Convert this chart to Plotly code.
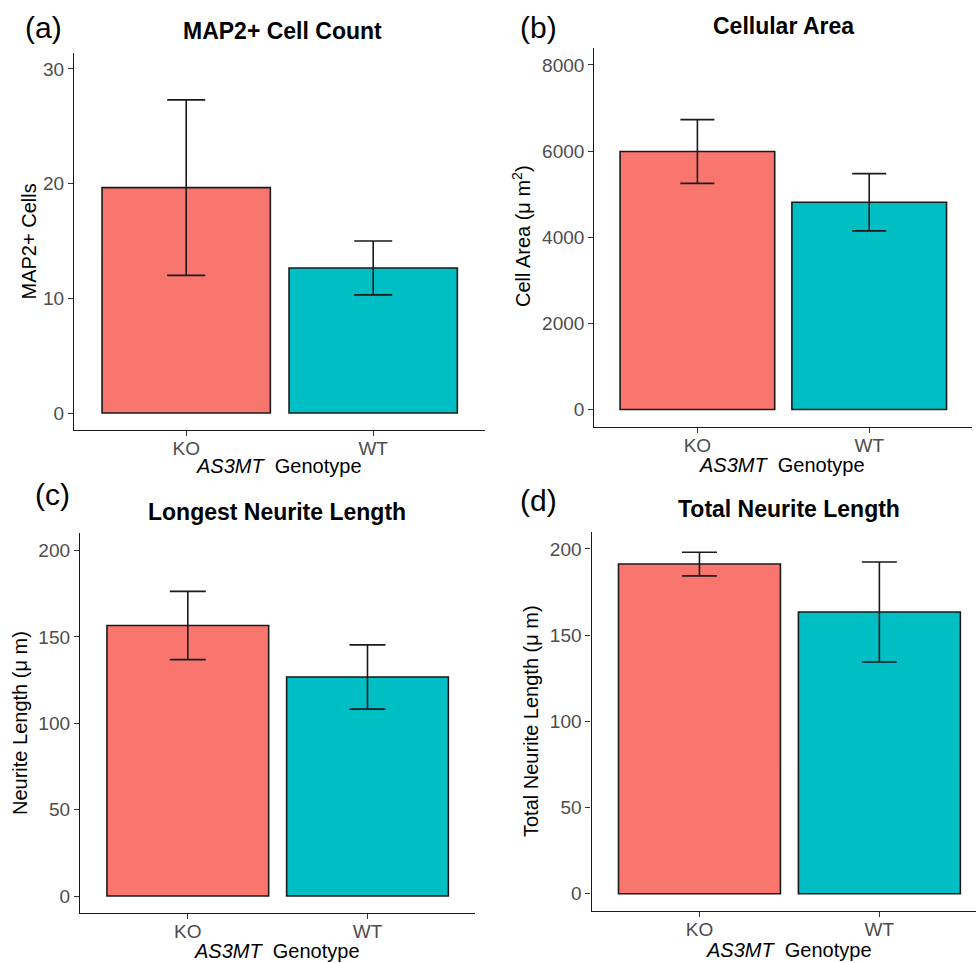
import plotly.graph_objects as go

# ---------------- data ----------------
genotypes = ["KO", "WT"]
bar_colors = ["#F8766D", "#00BFC4"]

map2_mean = [19.65, 12.65]
map2_se = [7.65, 2.35]

area_mean = [5990, 4811]
area_se = [741, 665]

longest_mean = [156.6, 126.8]
longest_se = [19.75, 18.6]

total_mean = [191.25, 163.4]
total_se = [6.85, 29.0]

panel_titles = ["MAP2+ Cell Count", "Cellular Area", "Longest Neurite Length", "Total Neurite Length"]
panel_tags = ["(a)", "(b)", "(c)", "(d)"]
y_titles = ["MAP2+ Cells", "Cell Area (\u03bc m<sup>2</sup>)", "Neurite Length (\u03bc m)",
            "Total Neurite Length (\u03bc m)"]
x_title = "<i>AS3MT</i>  Genotype"
y_ticks = [[0, 10, 20, 30], [0, 2000, 4000, 6000, 8000], [0, 50, 100, 150, 200], [0, 50, 100, 150, 200]]

# ---------------- layout geometry (pixels) ----------------
W, H = 976, 963
FONT = "Liberation Sans, Arial, Helvetica, sans-serif"


def fx(p):
    return p / W


def fy(p):
    return 1 - p / H


panels = [
    dict(x0=74, x1=485.4, yt=53, yb=430, xr=[-0.6, 1.6], yr=[-1.48, 31.39], cap=19,
         tag=(43, 27), title=(282, 31), ytit=(29, 241.5), xtit=(279, 466)),
    dict(x0=594.3, x1=972.3, yt=47.7, yb=426.7, xr=[-0.6, 1.6], yr=[-400, 8400], cap=17,
         tag=(538, 27), title=(783, 26), ytit=(522, 236), xtit=(782, 465)),
    dict(x0=80, x1=475.3, yt=533.3, yb=913.3, xr=[-0.6, 1.6], yr=[-10, 210], cap=18,
         tag=(52, 495), title=(277, 512), ytit=(20, 723), xtit=(277, 951)),
    dict(x0=591.5, x1=976, yt=531.7, yb=911, xr=[-0.6, 1.537], yr=[-10, 210], cap=17.5,
         tag=(538, 500), title=(789, 509), ytit=(531, 721), xtit=(789, 950)),
]

series = [(map2_mean, map2_se), (area_mean, area_se), (longest_mean, longest_se), (total_mean, total_se)]

fig = go.Figure()
annotations = []

for i, (p, (m, se)) in enumerate(zip(panels, series)):
    n = "" if i == 0 else str(i + 1)
    fig.add_trace(go.Bar(
        x=genotypes, y=m,
        xaxis="x" + n, yaxis="y" + n,
        width=0.9,
        marker=dict(color=bar_colors, line=dict(color="#1a1a1a", width=1.6)),
        error_y=dict(type="data", array=se, visible=True, color="#1a1a1a",
                     thickness=1.6, width=p["cap"]),
        showlegend=False,
        hoverinfo="skip",
    ))
    axis_common = dict(
        showgrid=False, zeroline=False, showline=True, linecolor="#1a1a1a", linewidth=1.3,
        ticks="outside", ticklen=5, tickwidth=1.2, tickcolor="#333333",
        tickfont=dict(family=FONT, size=19, color="#4D4D4D"),
    )
    fig.update_layout(**{
        "xaxis" + n: dict(domain=[fx(p["x0"]), fx(p["x1"])], range=p["xr"], anchor="y" + n,
                          type="category", ticklabelstandoff=-4, **axis_common),
        "yaxis" + n: dict(domain=[fy(p["yb"]), fy(p["yt"])], range=p["yr"], anchor="x" + n,
                          tickvals=y_ticks[i], **axis_common),
    })
    annotations.append(dict(text=panel_tags[i], x=fx(p["tag"][0]), y=fy(p["tag"][1]),
                            xref="paper", yref="paper", showarrow=False,
                            xanchor="center", yanchor="middle",
                            font=dict(family=FONT, size=30, color="black")))
    annotations.append(dict(text="<b>" + panel_titles[i] + "</b>", x=fx(p["title"][0]),
                            y=fy(p["title"][1]), xref="paper", yref="paper", showarrow=False,
                            xanchor="center", yanchor="middle",
                            font=dict(family=FONT, size=23, color="black")))
    annotations.append(dict(text=y_titles[i], x=fx(p["ytit"][0]), y=fy(p["ytit"][1]),
                            xref="paper", yref="paper", showarrow=False, textangle=-90,
                            xanchor="center", yanchor="middle",
                            font=dict(family=FONT, size=20, color="black")))
    annotations.append(dict(text=x_title, x=fx(p["xtit"][0]), y=fy(p["xtit"][1]),
                            xref="paper", yref="paper", showarrow=False,
                            xanchor="center", yanchor="middle",
                            font=dict(family=FONT, size=20, color="black")))

fig.update_layout(
    width=W, height=H,
    margin=dict(l=0, r=0, t=0, b=0),
    paper_bgcolor="white", plot_bgcolor="white",
    bargap=0.1,
    annotations=annotations,
)

fig.write_html("out.html", config={"displayModeBar": False},
               post_script="document.body.style.margin='0px';")
